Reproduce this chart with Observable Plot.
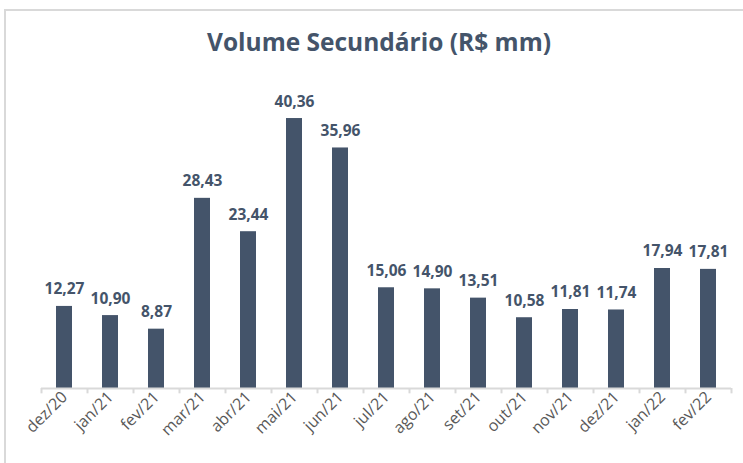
<!DOCTYPE html>
<html>
<head>
<meta charset="utf-8">
<script src="https://cdn.jsdelivr.net/npm/d3@7"></script>
<script src="https://cdn.jsdelivr.net/npm/@observablehq/plot@0.6"></script>
<style>
  html, body { margin: 0; padding: 0; background: #fff; }
  #wrap { position: relative; width: 743px; height: 463px; overflow: hidden; background: #fff; }
  #frame { position: absolute; left: 4px; top: 9px; width: 760px; height: 480px; border-left: 2px solid #d9d9d9; border-top: 2px solid #d9d9d9; box-sizing: border-box; }
  #title { position: absolute; left: 0; width: 758px; top: 25px; text-align: center; font-family: "Open Sans", sans-serif; font-weight: 700; font-size: 24.5px; color: #44546A; }
  #chart { position: absolute; left: 0; top: 0; }
</style>
</head>
<body>
<div id="wrap">
  <div id="frame"></div>
  <div id="chart"></div>
  <div id="title">Volume Secundário (R$ mm)</div>
</div>
<script>
const months = ["dez/20","jan/21","fev/21","mar/21","abr/21","mai/21","jun/21","jul/21","ago/21","set/21","out/21","nov/21","dez/21","jan/22","fev/22"];
const values = [12.27,10.90,8.87,28.43,23.44,40.36,35.96,15.06,14.90,13.51,10.58,11.81,11.74,17.94,17.81];

const data = months.map((m, i) => ({month: m, value: values[i]}));
const fmt = v => v.toFixed(2).replace(".", ",");
const step = (731 - 41) / months.length;

const chart = Plot.plot({
  width: 743,
  height: 463,
  marginLeft: 41,
  marginRight: 12,
  marginTop: 87,
  marginBottom: 75,
  style: {fontFamily: "'Open Sans', sans-serif", background: "transparent"},
  x: {domain: months, paddingInner: 0.65, paddingOuter: 0.325, label: null},
  y: {domain: [0, 45], axis: null},
  marks: [
    Plot.barY(data, {x: "month", y: "value", fill: "#44546A"}),
    Plot.ruleY([0], {stroke: "#d9d9d9", strokeWidth: 2}),
    Plot.ruleX(data, {x: "month", dx: -step / 2, y1: 0, y2: -0.8, stroke: "#d9d9d9", strokeWidth: 2}),
    Plot.ruleX(data.slice(-1), {x: "month", dx: step / 2, y1: 0, y2: -0.8, stroke: "#d9d9d9", strokeWidth: 2}),
    Plot.text(data, {x: "month", y: "value", text: d => fmt(d.value), dy: -17, fill: "#44546A", fontWeight: 700, fontSize: 15.5}),
    Plot.axisX({tickSize: 0, tickPadding: 6, tickRotate: -45, fontSize: 16, fill: "#595959", label: null})
  ]
});
document.getElementById("chart").appendChild(chart);
</script>
</body>
</html>
